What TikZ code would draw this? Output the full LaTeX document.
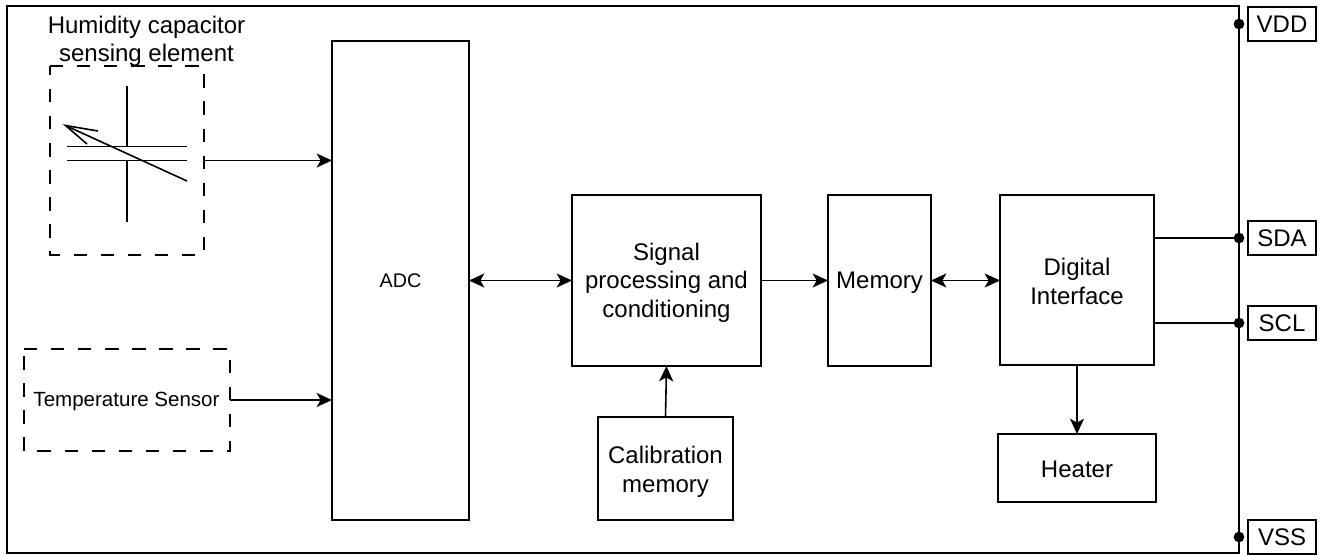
\documentclass[tikz,border=0pt]{standalone}
\usepackage{fontspec}
\setmainfont{Liberation Sans}
\usetikzlibrary{arrows.meta}
\newcommand{\lowered}[2]{\raisebox{-#1}[\height][\depth]{\begin{tabular}{@{}c@{}}#2\end{tabular}}}
\tikzset{
  x=0.75pt,y=-0.75pt,
  every node/.style={inner sep=0pt,outer sep=0pt},
  blockbox/.style={draw=black,line width=1.2pt,fill=white,align=center,font=\fontsize{18}{21.5}\selectfont},
  dashline/.style={draw=black,line width=1.2pt,dash pattern=on 10pt off 10.3pt},
  areabox/.style={align=center},
  pinbox/.style={blockbox,minimum width=51pt,minimum height=25.5pt},
  conn/.style={draw=black,line width=1.2pt,-{Stealth[length=11.5pt,width=10.5pt,inset=3pt]}},
  biconn/.style={draw=black,line width=1.2pt,{Stealth[length=11.5pt,width=10.5pt,inset=3pt]}-{Stealth[length=11.5pt,width=10.5pt,inset=3pt]}},
  wire/.style={draw=black,line width=1.2pt},
  pindot/.style={circle,fill=black,minimum size=8pt}
}
\newcommand{\boxat}[6][blockbox]{\node[#1,minimum width=#4*0.75pt,minimum height=#5*0.75pt] (#2) at (#3) {#6};}
\begin{document}
\begin{tikzpicture}
\useasboundingbox (0,0) rectangle (1320,554);
\node[draw=black,line width=1.2pt,minimum width=924pt,minimum height=410.25pt] (chip) at (623,279.5) {};
\boxat{adc}{400.5,280.5}{137}{479}{\fontsize{14.8}{20}\selectfont ADC}
\boxat{sig}{666.5,280.5}{189}{171}{\lowered{2pt}{Signal\\processing and\\conditioning}}
\boxat{mem}{879.5,280.5}{103}{171}{\lowered{1.5pt}{Memory}}
\boxat{dig}{1077,280}{154}{170}{\lowered{3pt}{Digital\\Interface}}
\boxat{cal}{665.5,468.5}{135}{103}{\lowered{3pt}{Calibration\\memory}}
\boxat{heat}{1077,468}{158}{68}{\lowered{3pt}{Heater}}
\node[areabox,minimum width=115.5pt,minimum height=141.75pt] (hum) at (127,160.5) {};
\node[areabox,minimum width=154.5pt,minimum height=76.5pt,font=\fontsize{15.4}{18}\selectfont] (temp) at (127,400) {\lowered{1.4pt}{Temperature Sensor}\hspace*{0.75pt}};
\draw[dashline] (hum.north west) -- (hum.north east) -- (hum.south east) -- (hum.south west) -- cycle;
\draw[dashline] (temp.north west) -- (temp.north east) -- (temp.south east) -- (temp.south west) -- cycle;
\node[align=center,font=\fontsize{18}{21.2}\selectfont] (humlabel) at (146.5,41) {Humidity capacitor\\sensing element};
\coordinate (platetopl) at (67,146.5);
\coordinate (platetopr) at (187,146.5);
\coordinate (platebotl) at (67,160.5);
\coordinate (platebotr) at (187,160.5);
\coordinate (leadtop) at (127,85.5);
\coordinate (leadtopend) at (127,146.5);
\coordinate (leadbot) at (127,160.5);
\coordinate (leadbotend) at (127,221.5);
\coordinate (tunestart) at (187,181);
\coordinate (tuneend) at (65.5,125.5);
\draw[wire] (platetopl) -- (platetopr);
\draw[wire] (platebotl) -- (platebotr);
\draw[wire] (leadtop) -- (leadtopend);
\draw[wire] (leadbot) -- (leadbotend);
\draw[wire] (tunestart) -- (tuneend);
\coordinate (tunea) at (98,131);
\coordinate (tuneb) at (87,144);
\draw[wire] (tunea) -- (tuneend) -- (tuneb);
\node[pinbox] (vdd) at (1282,24) {\lowered{2.2pt}{VDD}};
\node[pinbox] (sda) at (1282,238) {\lowered{2.2pt}{SDA}};
\node[pinbox] (scl) at (1282,323) {\lowered{2.2pt}{SCL}};
\node[pinbox] (vss) at (1282,537) {\lowered{2.2pt}{VSS}};
\node[pindot] (dvdd) at (1239,24) {};
\node[pindot] (dsda) at (1239,238) {};
\node[pindot] (dscl) at (1239,323) {};
\node[pindot] (dvss) at (1239,537) {};
\coordinate (hout) at (204,160.5);
\coordinate (tout) at (230,400);
\draw[conn] (hout) -- (hout -| adc.west);
\draw[conn] (tout) -- (tout -| adc.west);
\draw[biconn] (adc.east) -- (sig.west);
\draw[conn] (sig.east) -- (mem.west);
\draw[biconn] (mem.east) -- (mem.east -| dig.west);
\draw[conn] (cal.north) -- (sig.south);
\draw[conn] (dig.south) -- (heat.north);
\coordinate (dsdaout) at (1154,238);
\coordinate (dsclout) at (1154,323);
\draw[wire] (dsdaout) -- (dsda.center);
\draw[wire] (dsclout) -- (dscl.center);
\end{tikzpicture}
\end{document}
